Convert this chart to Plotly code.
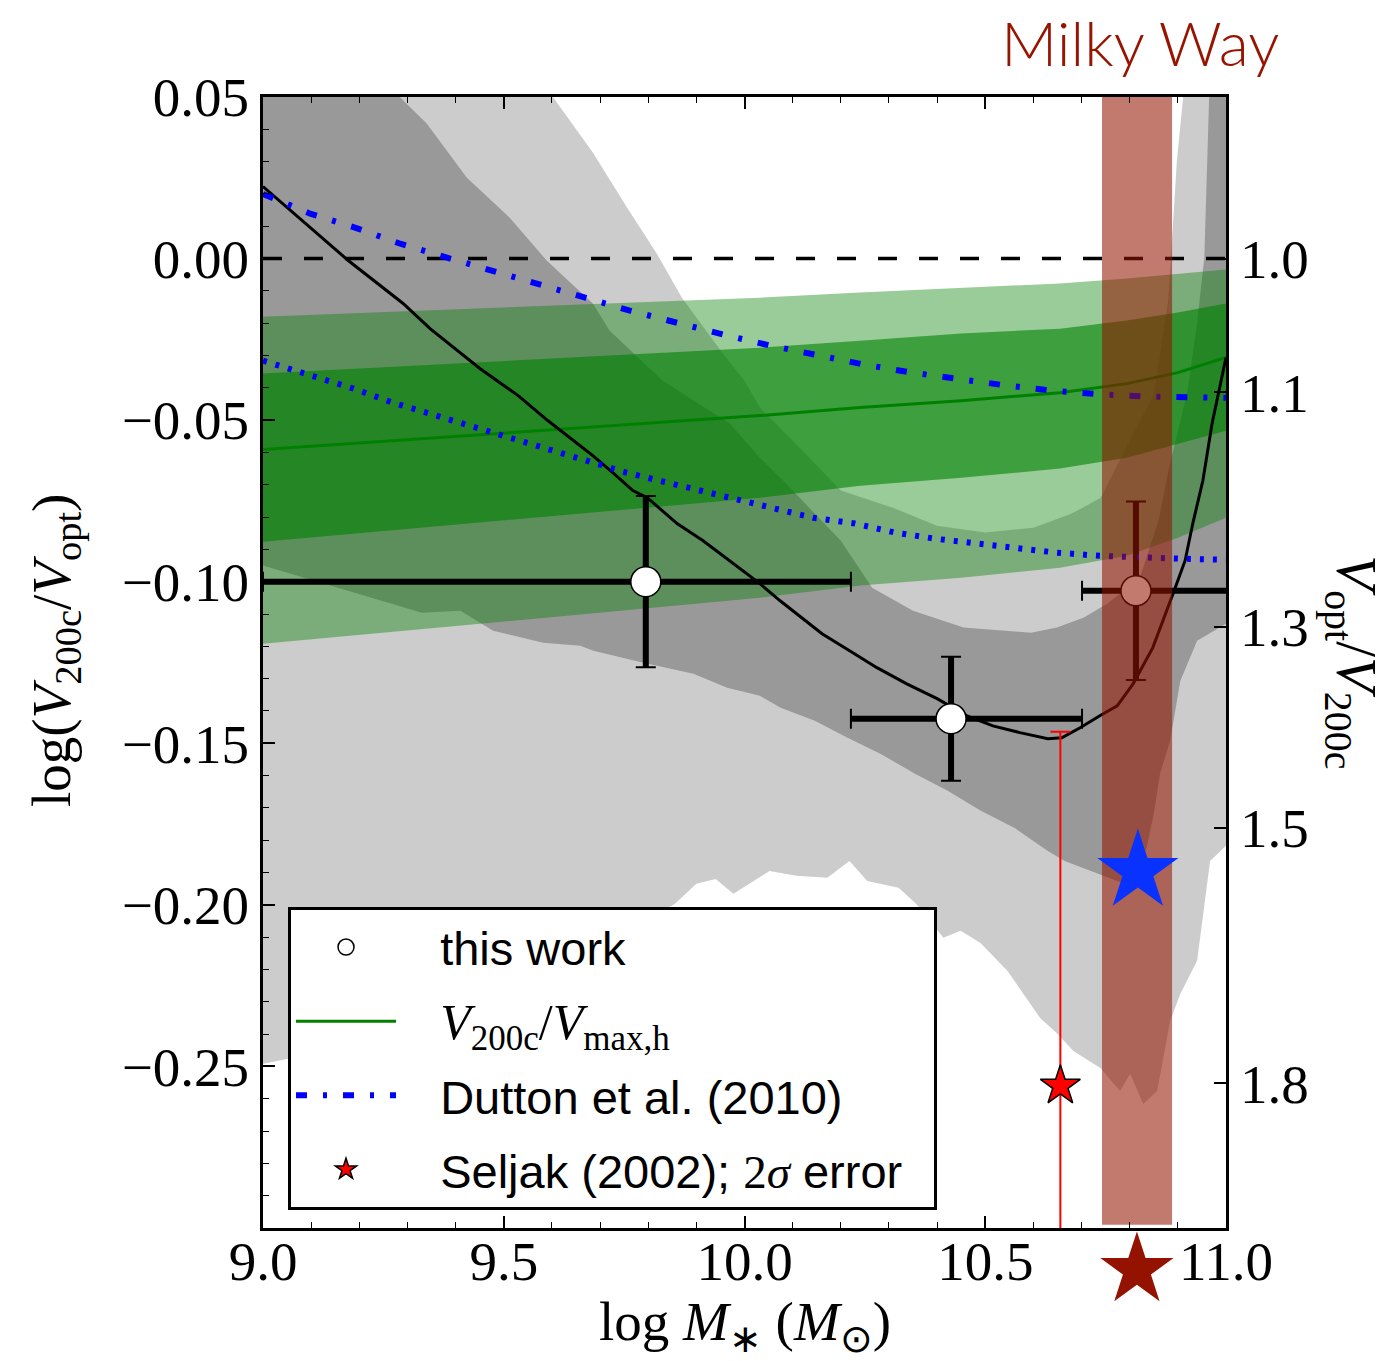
import numpy as np
import plotly.graph_objects as go

# ---------------- data ----------------
# black median curve
CURVE_X = [9.0, 9.104, 9.177, 9.291, 9.347, 9.451, 9.530, 9.592, 9.685, 9.727, 9.768, 9.798,
           9.860, 9.914, 9.964, 10.005, 10.032, 10.074, 10.161, 10.225, 10.275, 10.337, 10.400,
           10.462, 10.516, 10.572, 10.630, 10.659, 10.697, 10.738, 10.774, 10.807, 10.848,
           10.890, 10.915, 10.931, 10.952, 10.971, 11.0]
CURVE_Y = [0.0223, 0.0087, -0.0006, -0.0139, -0.0217, -0.0341, -0.0424, -0.0502, -0.0610,
           -0.0663, -0.0718, -0.0740, -0.0820, -0.0873, -0.0929, -0.0975, -0.1006, -0.1059,
           -0.1161, -0.1220, -0.1266, -0.1316, -0.1362, -0.1415, -0.1446, -0.1467, -0.1486,
           -0.1483, -0.1452, -0.1415, -0.1384, -0.1316, -0.1204, -0.1037, -0.0935, -0.0820,
           -0.0687, -0.0511, -0.0306]

# Dutton et al. (2010), dash-dot (upper) and dotted (lower)
DUT_UP_X = [9.0, 9.098, 9.191, 9.285, 9.382, 9.478, 9.571, 9.669, 9.762, 9.860, 9.955, 10.053,
            10.151, 10.248, 10.348, 10.446, 10.545, 10.643, 10.745, 10.842, 10.942, 11.0]
DUT_UP_Y = [0.0200, 0.0139, 0.0096, 0.0046, 0.0003, -0.0040, -0.0080, -0.0121, -0.0161, -0.0199,
            -0.0235, -0.0269, -0.0300, -0.0328, -0.0353, -0.0375, -0.0393, -0.0409, -0.0421,
            -0.0427, -0.0430, -0.0431]
DUT_LO_X = [9.0, 9.104, 9.187, 9.270, 9.347, 9.430, 9.509, 9.592, 9.675, 9.756, 9.839, 9.922,
            10.005, 10.059, 10.142, 10.229, 10.313, 10.396, 10.483, 10.566, 10.649, 10.738,
            10.821, 10.909, 11.0]
DUT_LO_Y = [-0.0316, -0.0362, -0.0402, -0.0446, -0.0480, -0.0517, -0.0554, -0.0588, -0.0625,
            -0.0663, -0.0693, -0.0722, -0.0752, -0.0774, -0.0802, -0.0820, -0.0848, -0.0867,
            -0.0882, -0.0898, -0.0910, -0.0920, -0.0926, -0.0929, -0.0932]

# V200c / Vmax,h (green) with 1 and 2 sigma bands
GREEN_X = [9.0, 10.032, 10.24, 10.45, 10.655, 10.794, 10.90, 11.0]
GREEN_MID = [-0.0591, -0.0486, -0.0461, -0.0440, -0.0415, -0.0387, -0.0353, -0.0306]
GREEN_2S_UP = [-0.0180, -0.0121, -0.0105, -0.0090, -0.0077, -0.0062, -0.0048, -0.0034]
GREEN_2S_LO = [-0.1192, -0.1050, -0.1012, -0.0988, -0.0957, -0.0920, -0.0864, -0.0802]
GREEN_1S_UP = [-0.0356, -0.0276, -0.0254, -0.0232, -0.0217, -0.0192, -0.0167, -0.0139]
GREEN_1S_LO = [-0.0876, -0.0740, -0.0703, -0.0678, -0.0650, -0.0616, -0.0573, -0.0533]

# grey scatter bands (outer = light, inner = dark)
LG_UP_X = [9.0, 9.3, 9.602, 9.685, 9.756, 9.818, 9.870, 9.955, 10.0, 10.032, 10.12, 10.2, 10.308,
           10.4, 10.5, 10.6, 10.68, 10.74, 10.80, 10.85, 10.88, 10.898, 10.911, 10.95, 11.0]
LG_UP_Y = [0.16, 0.11, 0.05, 0.0328, 0.0158, 0.0015, -0.0121, -0.0294, -0.0378, -0.0461, -0.0594,
           -0.0718, -0.0771, -0.0827, -0.0848, -0.0833, -0.0789, -0.0740, -0.0563, -0.0420,
           -0.0130, 0.0303, 0.05, 0.10, 0.15]
LG_LO_X = [9.0, 9.05, 9.4, 9.7, 9.855, 9.9, 9.94, 9.977, 10.052, 10.108, 10.172, 10.218, 10.255,
           10.32, 10.357, 10.413, 10.449, 10.49, 10.546, 10.614, 10.650, 10.683, 10.739, 10.780,
           10.801, 10.828, 10.857, 10.884, 10.905, 10.94, 10.967, 11.0]
LG_LO_Y = [-0.2492, -0.2477, -0.2297, -0.2127, -0.1997, -0.1935, -0.1920, -0.1966, -0.1895,
           -0.1910, -0.1916, -0.1864, -0.1926, -0.1947, -0.1997, -0.2102, -0.2080, -0.2118,
           -0.2204, -0.2350, -0.2399, -0.2452, -0.2505, -0.2576, -0.2523, -0.2616, -0.2576,
           -0.2359, -0.2276, -0.2173, -0.1864, -0.1817]
DG_UP_X = [9.0, 9.284, 9.34, 9.423, 9.512, 9.589, 9.685, 9.72, 9.83, 9.97, 10.032, 10.08, 10.2,
           10.265, 10.35, 10.455, 10.595, 10.649, 10.705, 10.753, 10.788, 10.824, 10.86, 10.88,
           10.92, 10.94, 10.955, 10.965, 11.0]
DG_UP_Y = [0.12, 0.05, 0.0418, 0.0251, 0.0127, -0.0006, -0.0139, -0.0223, -0.0378, -0.0511,
           -0.0616, -0.0687, -0.0873, -0.1019, -0.1090, -0.1142, -0.1158, -0.1142, -0.1111,
           -0.1068, -0.1028, -0.0975, -0.0810, -0.0660, -0.0410, -0.0200, 0.0003, 0.05, 0.12]
DG_LO_X = [9.0, 9.05, 9.33, 9.41, 9.478, 9.582, 9.659, 9.686, 9.790, 9.894, 9.964, 10.032, 10.075,
           10.146, 10.214, 10.283, 10.354, 10.422, 10.491, 10.561, 10.630, 10.665, 10.719, 10.80,
           10.835, 10.85, 10.863, 10.884, 10.905, 10.94, 11.0]
DG_LO_Y = [-0.0950, -0.0972, -0.1096, -0.1090, -0.1152, -0.1189, -0.1198, -0.1214, -0.1251,
           -0.1285, -0.1328, -0.1353, -0.1390, -0.1430, -0.1483, -0.1533, -0.1594, -0.1647,
           -0.1709, -0.1762, -0.1833, -0.1864, -0.1895, -0.1941, -0.1824, -0.1718, -0.1594,
           -0.1492, -0.1307, -0.1183, -0.1130]

# this work
THIS_X = [9.795, 10.429, 10.813]
THIS_Y = [-0.1000, -0.1424, -0.1028]
THIS_XERR_MINUS = [0.795, 0.208, 0.112]
THIS_XERR_PLUS = [0.426, 0.272, 0.300]
THIS_YERR = [0.0265, 0.0192, 0.0276]

# Seljak (2002)
SELJAK_X = [10.656]
SELJAK_Y = [-0.2560]
SELJAK_ERR = [0.1096]

# Milky Way
MW_RANGE = [10.7425, 10.888]
MW_BAND_Y = [-0.299, 0.05]
MW_STAR_X = [10.815]
MW_STAR_Y = [-0.3130]
MW_VROT_X = [10.817]
MW_VROT_Y = [-0.1896]

ZERO_X = [9.0, 11.0]
ZERO_Y = [0.0, 0.0]

X_TICKS = [9.0, 9.5, 10.0, 10.5, 11.0]
X_TICKTEXT = ["9.0", "9.5", "10.0", "10.5", "11.0"]
Y_TICKS = [0.05, 0.0, -0.05, -0.10, -0.15, -0.20, -0.25]
Y_TICKTEXT = ["0.05", "0.00", "\u22120.05", "\u22120.10", "\u22120.15", "\u22120.20", "\u22120.25"]
RATIO_TICKS = [1.0, 1.1, 1.3, 1.5, 1.8]
RATIO_TICKTEXT = ["1.0", "1.1", "1.3", "1.5", "1.8"]

SERIF = "Liberation Serif"
SANS = "Liberation Sans"
NB = "\u00a0"

fig = go.Figure()


def band(xu, yu, xl, yl, color):
    return go.Scatter(x=list(xu) + list(xl)[::-1], y=list(yu) + list(yl)[::-1],
                      fill="toself", fillcolor=color, mode="lines", line=dict(width=0),
                      hoverinfo="skip", showlegend=False)


fig.add_trace(band(LG_UP_X, LG_UP_Y, LG_LO_X, LG_LO_Y, "#cccccc"))
fig.add_trace(band(DG_UP_X, DG_UP_Y, DG_LO_X, DG_LO_Y, "#999999"))
fig.add_trace(band(GREEN_X, GREEN_2S_UP, GREEN_X, GREEN_2S_LO, "rgba(0,128,0,0.4)"))
fig.add_trace(band(GREEN_X, GREEN_1S_UP, GREEN_X, GREEN_1S_LO, "rgba(0,128,0,0.6)"))

# dashed zero line
fig.add_trace(go.Scatter(x=ZERO_X, y=ZERO_Y, mode="lines",
                         line=dict(color="black", width=3.5, dash="19px,22px"),
                         showlegend=False, hoverinfo="skip"))

# thick error bars (no caps) for this work
fig.add_trace(go.Scatter(x=THIS_X, y=THIS_Y, mode="markers",
                         marker=dict(size=0.1, color="rgba(0,0,0,0)"),
                         error_x=dict(type="data", symmetric=False, array=THIS_XERR_PLUS,
                                      arrayminus=THIS_XERR_MINUS, color="black",
                                      thickness=6, width=0),
                         error_y=dict(type="data", array=THIS_YERR, color="black",
                                      thickness=6, width=0),
                         showlegend=False, hoverinfo="skip"))

fig.add_trace(go.Scatter(x=GREEN_X, y=GREEN_MID, mode="lines",
                         line=dict(color="green", width=3),
                         name=NB * 3 + '<span style="font-family:Liberation Serif;font-size:50px"><i>V</i><sub>200c</sub>/<i>V</i><sub>max,h</sub></span>',
                         legendrank=2, legendgroup="g2"))
fig.add_trace(go.Scatter(x=CURVE_X, y=CURVE_Y, mode="lines",
                         line=dict(color="black", width=3), showlegend=False))
fig.add_trace(go.Scatter(x=DUT_UP_X, y=DUT_UP_Y, mode="lines",
                         line=dict(color="blue", width=6, dash="11px,16px,4px,16px"),
                         name=NB * 3 + "Dutton et al. (2010)", legendrank=3, legendgroup="g3"))
fig.add_trace(go.Scatter(x=DUT_LO_X, y=DUT_LO_Y, mode="lines",
                         line=dict(color="blue", width=6, dash="4px,9px"),
                         showlegend=False))

fig.add_trace(go.Scatter(x=THIS_X, y=THIS_Y, mode="markers",
                         marker=dict(symbol="circle", size=30, color="white",
                                     line=dict(color="black", width=1.5)),
                         error_x=dict(type="data", symmetric=False, array=THIS_XERR_PLUS,
                                      arrayminus=THIS_XERR_MINUS, color="black",
                                      thickness=2, width=10),
                         error_y=dict(type="data", array=THIS_YERR, color="black",
                                      thickness=2, width=10),
                         name=NB * 3 + "this work", legendrank=1, legendgroup="g1"))

fig.add_trace(go.Scatter(x=SELJAK_X, y=SELJAK_Y, mode="markers",
                         marker=dict(symbol="star", size=30, color="red",
                                     line=dict(color="black", width=1.5)),
                         error_y=dict(type="data", array=SELJAK_ERR, color="red",
                                      thickness=2, width=10),
                         name=NB * 3 + 'Seljak (2002); <span style="font-family:Liberation Serif">2<i>\u03c3</i></span> error' + NB * 2,
                         legendrank=4, legendgroup="g4"))

# Milky Way band (drawn above the data)
fig.add_trace(go.Scatter(x=[MW_RANGE[0], MW_RANGE[1], MW_RANGE[1], MW_RANGE[0], MW_RANGE[0]],
                         y=[MW_BAND_Y[0], MW_BAND_Y[0], MW_BAND_Y[1], MW_BAND_Y[1], MW_BAND_Y[0]],
                         fill="toself", fillcolor="rgba(148,20,0,0.57)", mode="lines",
                         line=dict(width=0), showlegend=False, hoverinfo="skip"))
fig.add_trace(go.Scatter(x=MW_VROT_X, y=MW_VROT_Y, mode="markers",
                         marker=dict(symbol="star", size=61, color="#0a32ff",
                                     line=dict(width=0)),
                         showlegend=False))

# geometry: plot box from y=97 to y=1228 px; extra hidden axis reaching below it
TOP, BOT_PLOT, BOT_PAPER = 97, 1228, 1288
PAPER_H = BOT_PAPER - TOP
YR = [-0.30, 0.05]
px_per_unit = (BOT_PLOT - TOP) / (YR[1] - YR[0])
YR3 = [YR[0] - (BOT_PAPER - BOT_PLOT) / px_per_unit, YR[1]]
YDOM = [(BOT_PAPER - BOT_PLOT) / PAPER_H, 1.0]

# invisible trace to activate the right axis
fig.add_trace(go.Scatter(x=[10.0], y=[0.0], yaxis="y2", mode="markers",
                         marker=dict(opacity=0), showlegend=False, hoverinfo="skip"))

# Milky Way marker below the axis (on a hidden axis that extends below the plot box)
fig.add_trace(go.Scatter(x=MW_STAR_X, y=MW_STAR_Y, yaxis="y3", mode="markers",
                         cliponaxis=False,
                         marker=dict(symbol="star", size=55, color="#931300",
                                     line=dict(width=0)),
                         showlegend=False))

axis_common = dict(showgrid=False, zeroline=False, showline=True, linecolor="black",
                   linewidth=3, ticks="inside", ticklen=12, tickwidth=1.5, tickcolor="black",
                   tickfont=dict(family=SERIF, size=55, color="black"))

fig.update_layout(
    width=1394, height=1361,
    margin=dict(l=263, r=168, t=TOP, b=1361 - BOT_PAPER),
    paper_bgcolor="white", plot_bgcolor="rgba(0,0,0,0)",
    xaxis=dict(range=[9.0, 11.0], tickvals=X_TICKS, ticktext=X_TICKTEXT, mirror="ticks",
               ticklabelstandoff=-17, anchor="y",
               minor=dict(dtick=0.1, tick0=9.0, ticks="inside", ticklen=6, tickwidth=1.2,
                          tickcolor="black", showgrid=False),
               **axis_common),
    yaxis=dict(range=YR, domain=YDOM, tickvals=Y_TICKS, ticktext=Y_TICKTEXT, mirror=True,
               ticklabelstandoff=0, anchor="x",
               minor=dict(dtick=0.01, tick0=0.0, ticks="inside", ticklen=6, tickwidth=1.2,
                          tickcolor="black", showgrid=False),
               **axis_common),
    yaxis2=dict(range=YR, domain=YDOM, overlaying="y", side="right", anchor="x",
                tickvals=[-np.log10(v) for v in RATIO_TICKS], ticktext=RATIO_TICKTEXT,
                ticklabelstandoff=0, **axis_common),
    yaxis3=dict(range=YR3, domain=[0, 1], anchor="x", visible=False,
                showgrid=False, zeroline=False, showline=False, fixedrange=True),
    legend=dict(x=(288 - 263) / 963, y=(BOT_PAPER - 907) / PAPER_H, xanchor="left",
                yanchor="top", bgcolor="white",
                bordercolor="black", borderwidth=3, itemwidth=100, tracegroupgap=10,
                font=dict(family=SANS, size=47, color="black")),
    showlegend=True,
)

fig.add_annotation(text="log(<i>V</i><sub>200c</sub>/<i>V</i><sub>opt</sub>)",
                   xref="paper", yref="y domain", x=-0.216, y=0.511, textangle=-90,
                   showarrow=False, xanchor="center", yanchor="middle",
                   font=dict(family=SERIF, size=55, color="black"))
fig.add_annotation(text="<i>V</i><sub>opt</sub>/<i>V</i><sub>200c</sub>",
                   xref="paper", yref="y domain", x=1.131, y=0.500, textangle=90,
                   showarrow=False, xanchor="center", yanchor="middle",
                   font=dict(family=SERIF, size=57, color="black"))
fig.add_annotation(text="log <i>M</i><sub>\u2217</sub> (<i>M</i><sub>\u2299</sub>)",
                   xref="paper", yref="y domain", x=0.5, y=-0.086,
                   showarrow=False, xanchor="center", yanchor="middle",
                   font=dict(family=SERIF, size=55, color="black"))
fig.add_annotation(text="Milky Way", xref="paper", yref="y domain", x=0.9107, y=1.049,
                   showarrow=False, xanchor="center", yanchor="middle",
                   font=dict(family="Lato", size=62, color="#961400", weight=300))

fig.write_html("out.html")
